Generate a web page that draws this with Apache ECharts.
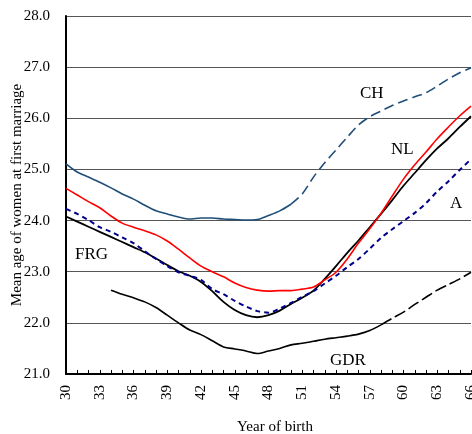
<!DOCTYPE html>
<html>
<head>
<meta charset="utf-8">
<script src="https://cdn.jsdelivr.net/npm/echarts@6/dist/echarts.min.js"></script>
<style>
html,body{margin:0;padding:0;background:#fff;}
#main{width:472px;height:434px;}
</style>
</head>
<body>
<div id="main"></div>
<script>
// ---- data (year of birth 19xx) ----
var years = [30,31,32,33,34,35,36,37,38,39,40,41,42,43,44,45,46,47,48,49,50,51,52,53,54,55,56,57,58,59,60,61,62,63,64,65,66];
var CH  = [25.11,24.95,24.85,24.75,24.64,24.52,24.42,24.30,24.19,24.13,24.07,24.03,24.05,24.05,24.03,24.02,24.01,24.02,24.10,24.19,24.32,24.52,24.85,25.13,25.38,25.63,25.87,26.03,26.14,26.25,26.34,26.42,26.50,26.63,26.77,26.89,26.99];
var NL  = [24.63,24.50,24.37,24.25,24.09,23.95,23.87,23.80,23.72,23.60,23.44,23.27,23.11,23.00,22.90,22.78,22.69,22.64,22.62,22.63,22.63,22.66,22.70,22.84,22.99,23.25,23.56,23.84,24.14,24.48,24.81,25.09,25.34,25.60,25.83,26.05,26.24];
var FRG = [24.08,23.98,23.88,23.78,23.68,23.58,23.48,23.38,23.26,23.13,23.01,22.92,22.80,22.62,22.41,22.25,22.15,22.11,22.15,22.24,22.37,22.49,22.63,22.86,23.11,23.37,23.61,23.87,24.13,24.40,24.68,24.93,25.18,25.41,25.61,25.83,26.04];
var A   = [24.23,24.13,24.01,23.87,23.78,23.67,23.56,23.40,23.25,23.11,22.99,22.92,22.84,22.66,22.56,22.43,22.32,22.23,22.20,22.28,22.39,22.51,22.62,22.77,22.92,23.09,23.25,23.45,23.66,23.83,23.99,24.15,24.34,24.57,24.77,24.99,25.20];
var GDR = [null,null,null,null,22.64,22.56,22.49,22.41,22.30,22.15,22.00,21.86,21.77,21.65,21.53,21.49,21.45,21.40,21.45,21.50,21.57,21.60,21.64,21.68,21.71,21.74,21.78,21.85,21.96,22.09,22.21,22.36,22.50,22.64,22.75,22.86,22.99];
var CH_DASH_FROM = 50;   // CH drawn dashed from this year on
var GDR_DASH_FROM = 58;  // GDR drawn dashed from this year on
var yTicks = [21,22,23,24,25,26,27,28];

function pairs(vals, from, to) {
  return years.map(function (y, i) {
    return (y >= from && y <= to && vals[i] != null) ? [y, vals[i]] : [y, null];
  });
}

var serif = "'Liberation Serif','Times New Roman',serif";
var chart = echarts.init(document.getElementById('main'), null, {renderer: 'canvas'});

function lineSeries(name, data, color, width, type) {
  return {
    name: name, type: 'line', data: data, showSymbol: false, smooth: 0.3,
    connectNulls: false, animation: false,
    lineStyle: {color: color, width: width, type: type, cap: 'butt'}
  };
}

chart.setOption({
  animation: false,
  grid: {left: 66, right: 1, top: 16, bottom: 60, containLabel: false, outerBoundsMode: 'none'},
  xAxis: {
    type: 'value', min: 30, max: 66, interval: 3,
    name: 'Year of birth', nameLocation: 'middle', nameGap: 46, nameMoveOverlap: false,
    nameTextStyle: {fontFamily: serif, fontSize: 15, color: '#000', padding: [0,0,0,13]},
    axisLine: {show: true, onZero: false, lineStyle: {color: '#000', width: 2}},
    axisTick: {show: true, inside: true, length: 4, lineStyle: {color: '#000'}},
    minorTick: {show: true, splitNumber: 3, length: 4, lineStyle: {color: '#000'}},
    axisLabel: {rotate: 90, margin: 11, fontFamily: serif, fontSize: 15, color: '#000'},
    splitLine: {show: false}
  },
  yAxis: {
    type: 'value', min: yTicks[0], max: yTicks[yTicks.length - 1], interval: 1,
    name: 'Mean age of women at first marriage', nameLocation: 'middle', nameGap: 41, nameMoveOverlap: false,
    nameTextStyle: {fontFamily: serif, fontSize: 15, color: '#000'},
    axisLine: {show: true, lineStyle: {color: '#000', width: 2}},
    axisTick: {show: false},
    axisLabel: {margin: 16, fontFamily: serif, fontSize: 15, color: '#000',
      formatter: function (v) { return v.toFixed(1); }},
    splitLine: {show: true, lineStyle: {color: '#555', width: 1}}
  },
  series: [
    lineSeries('CH', pairs(CH, 30, CH_DASH_FROM), '#1F4E79', 1.6, 'solid'),
    lineSeries('CH dashed', pairs(CH, CH_DASH_FROM, 66), '#1F4E79', 1.6, [10, 5]),
    lineSeries('GDR', pairs(GDR, 30, GDR_DASH_FROM), '#000', 1.6, 'solid'),
    lineSeries('GDR dashed', pairs(GDR, GDR_DASH_FROM, 66), '#000', 1.6, [12, 4]),
    lineSeries('FRG', pairs(FRG, 30, 66), '#000', 1.8, 'solid'),
    lineSeries('A', pairs(A, 30, 66), '#00008B', 2, [5, 4]),
    lineSeries('NL', pairs(NL, 30, 66), '#FF0000', 1.6, 'solid')
  ],
  graphic: [
    {type: 'text', left: 360, top: 85, style: {text: 'CH', font: '17px ' + serif, fill: '#000'}},
    {type: 'text', left: 391, top: 141, style: {text: 'NL', font: '17px ' + serif, fill: '#000'}},
    {type: 'text', left: 450, top: 195, style: {text: 'A', font: '17px ' + serif, fill: '#000'}},
    {type: 'text', left: 75, top: 246, style: {text: 'FRG', font: '17px ' + serif, fill: '#000'}},
    {type: 'text', left: 330, top: 352, style: {text: 'GDR', font: '17px ' + serif, fill: '#000'}}
  ]
});
</script>
</body>
</html>
